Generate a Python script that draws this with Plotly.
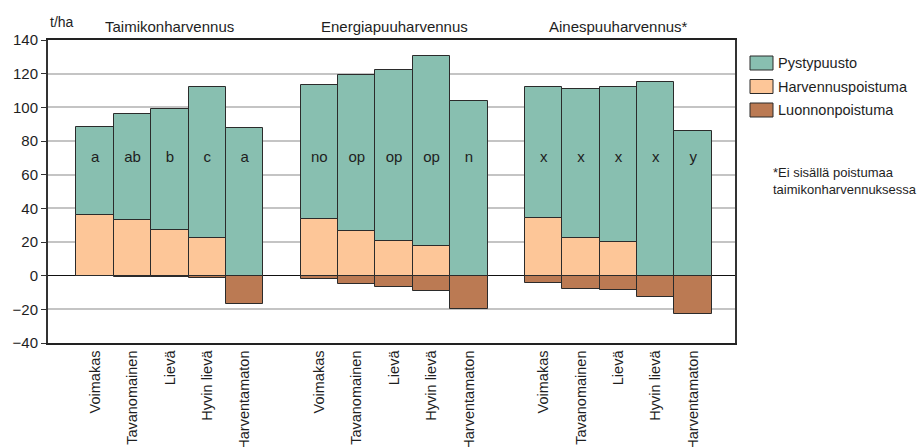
import plotly.graph_objects as go

# Biomass (t/ha) by thinning type and thinning intensity
groups = ["Taimikonharvennus", "Energiapuuharvennus", "Ainespuuharvennus*"]
classes = ["Voimakas", "Tavanomainen", "Lievä", "Hyvin lievä", "Harventamaton"]

# total standing + removed (top of the stacked positive bar)
total = [88.6, 96.0, 99.3, 112.2, 88.0,
         113.4, 119.3, 121.9, 130.4, 103.5,
         112.0, 111.0, 112.2, 114.8, 85.7]
# thinning removal (Harvennuspoistuma)
thinning = [36.1, 32.8, 27.4, 22.1, 0.0,
            33.4, 26.4, 20.7, 17.5, 0.0,
            34.3, 22.5, 20.1, 0.0, 0.0]
# natural mortality (Luonnonpoistuma), drawn below zero
natural = [-0.4, -0.9, -0.7, -1.5, -16.8,
           -2.1, -5.2, -6.8, -9.4, -19.9,
           -4.5, -8.2, -8.8, -12.4, -22.7]
# significance letters
letters = ["a", "ab", "b", "c", "a",
           "no", "op", "op", "op", "n",
           "x", "x", "x", "x", "y"]
letter_y = 70

standing = [t - h for t, h in zip(total, thinning)]

C_STAND = "#88bfb0"
C_THIN = "#fdc698"
C_NAT = "#bb7a53"
EDGE = "#2b2b2b"
FONT = "Liberation Sans, Arial, sans-serif"
TXT = "#1e1e1e"

xpos = [g * 6 + i for g in range(len(groups)) for i in range(len(classes))]
xlabels = [c for _ in groups for c in classes]

# plot area in pixels (for placing the side legend in paper units)
L, R, T, B = 48, 735, 40, 343
W, H = R - L, B - T

fig = go.Figure()
edge = dict(color=EDGE, width=1)
fig.add_bar(x=xpos, y=thinning, name="Harvennuspoistuma", width=1,
            marker=dict(color=C_THIN, line=edge))
fig.add_bar(x=xpos, y=standing, name="Pystypuusto", width=1,
            marker=dict(color=C_STAND, line=edge))
fig.add_bar(x=xpos, y=natural, name="Luonnonpoistuma", width=1,
            marker=dict(color=C_NAT, line=edge))
fig.add_scatter(x=xpos, y=[letter_y] * len(xpos), text=letters, mode="text",
                textfont=dict(family=FONT, size=15, color=TXT),
                showlegend=False, hoverinfo="skip")

# group titles above the plot area
for g, name in enumerate(groups):
    fig.add_annotation(x=g * 6 + 2, y=1.0, xref="x", yref="paper",
                       yanchor="bottom", yshift=3, text=name, showarrow=False,
                       font=dict(family=FONT, size=15, color=TXT))
fig.add_annotation(x=0, y=1.0, xref="paper", yref="paper", xanchor="left",
                   yanchor="bottom", yshift=8, text="t/ha", showarrow=False,
                   font=dict(family=FONT, size=14, color=TXT))

# legend block on the right
legend_items = [("Pystypuusto", C_STAND), ("Harvennuspoistuma", C_THIN),
                ("Luonnonpoistuma", C_NAT)]
for k, (name, col) in enumerate(legend_items):
    yc = 63 + k * 23.5
    fig.add_shape(type="rect", xref="paper", yref="paper",
                  x0=(750 - L) / W, x1=(773 - L) / W,
                  y0=(B - (yc - 7)) / H, y1=(B - (yc + 7)) / H,
                  fillcolor=col, line=dict(color=EDGE, width=1))
    fig.add_annotation(xref="paper", yref="paper", x=(776 - L) / W,
                       y=(B - yc) / H, xanchor="left", yanchor="middle",
                       text=name, showarrow=False,
                       font=dict(family=FONT, size=14.5, color=TXT))
fig.add_annotation(xref="paper", yref="paper", x=(771 - L) / W,
                   y=(B - 181) / H, xanchor="left", yanchor="middle",
                   align="left", text="*Ei sisällä poistumaa<br>taimikonharvennuksessa",
                   showarrow=False, font=dict(family=FONT, size=13, color=TXT))

fig.update_layout(
    width=918, height=447, barmode="relative", bargap=0,
    margin=dict(l=L, r=918 - R, t=T, b=447 - B, autoexpand=False),
    plot_bgcolor="white", paper_bgcolor="white", showlegend=False,
    font=dict(family=FONT, size=15, color=TXT),
)
fig.update_xaxes(range=[-1.26, 17.12], tickmode="array", tickvals=xpos,
                 ticktext=xlabels, tickangle=-90, ticks="", showgrid=False,
                 zeroline=False, showline=True, linecolor="#222", linewidth=1.5,
                 mirror=True, automargin=False, tickfont=dict(size=14.5))
fig.update_yaxes(range=[-40, 140], dtick=20, ticks="outside", ticklen=5,
                 tickcolor="#333", showgrid=True, gridcolor="#c4c4c4",
                 gridwidth=1.5, zeroline=True, zerolinecolor="#111",
                 zerolinewidth=1.2, showline=True, linecolor="#333",
                 linewidth=2, mirror=True, automargin=False,
                 tickfont=dict(size=15))

fig.write_html("out.html")
